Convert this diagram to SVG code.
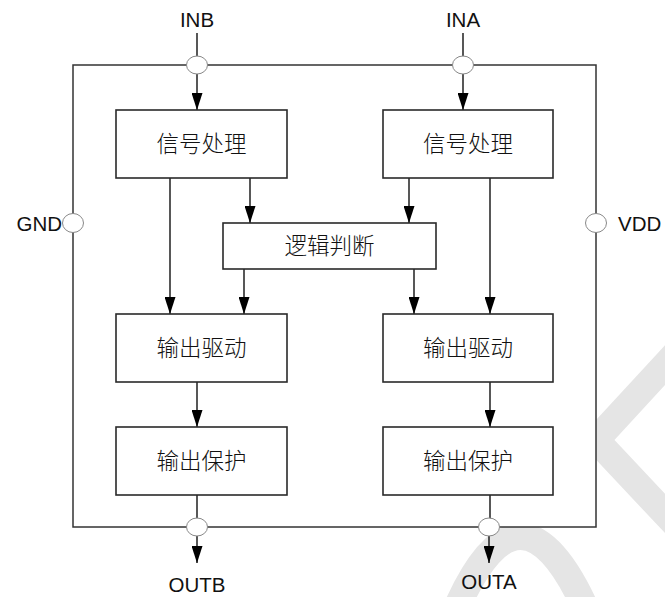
<svg xmlns="http://www.w3.org/2000/svg" width="665" height="597" viewBox="0 0 665 597">
  <style>
    .box { fill: #ffffff; stroke: #2a2a2a; stroke-width: 1.6; }
    .pin { fill: #ffffff; stroke: #888888; stroke-width: 1; }
    .wire { fill: none; stroke: #111111; stroke-width: 1.4; }
    .frame { fill: #ffffff; stroke: #333333; stroke-width: 1.5; }
    .cn { font-family: "Noto Sans CJK SC", "Noto Sans", sans-serif; font-size: 22.5px; font-weight: 300; fill: #111111; text-anchor: middle; }
    .lbl { font-family: "Liberation Sans", Arial, sans-serif; font-size: 20.5px; fill: #111111; }
    .wm { fill: none; stroke: #e5e5e5; stroke-width: 27; }
  </style>
  <defs>
    <marker id="ah" viewBox="0 0 17 11" refX="17" refY="5.5" markerUnits="userSpaceOnUse" markerWidth="17" markerHeight="11" orient="auto">
      <polygon points="0,0 17,5.5 0,11" fill="#000000"/>
    </marker>
  </defs>
  <rect width="665" height="597" fill="#ffffff"/>
  <g id="watermark">
    <path class="wm" d="M 458 605 Q 520 468 584 605"/>
    <path class="wm" d="M 690 338 L 596 440 L 690 540"/>
  </g>
  <rect id="frame" class="frame" x="73" y="65" width="523" height="462"/>
  <g id="connectors">
    <line class="wire" x1="197" y1="33" x2="197" y2="57"/>
    <line class="wire" x1="197" y1="74" x2="197" y2="110" marker-end="url(#ah)"/>
    <line class="wire" x1="463" y1="33" x2="463" y2="57"/>
    <line class="wire" x1="463" y1="74" x2="463" y2="110" marker-end="url(#ah)"/>
    <line class="wire" x1="170" y1="178" x2="170" y2="314" marker-end="url(#ah)"/>
    <line class="wire" x1="250" y1="178" x2="250" y2="223" marker-end="url(#ah)"/>
    <line class="wire" x1="244" y1="269" x2="244" y2="314" marker-end="url(#ah)"/>
    <line class="wire" x1="409" y1="178" x2="409" y2="223" marker-end="url(#ah)"/>
    <line class="wire" x1="414" y1="269" x2="414" y2="314" marker-end="url(#ah)"/>
    <line class="wire" x1="490" y1="178" x2="490" y2="314" marker-end="url(#ah)"/>
    <line class="wire" x1="197" y1="382" x2="197" y2="427" marker-end="url(#ah)"/>
    <line class="wire" x1="490" y1="382" x2="490" y2="427" marker-end="url(#ah)"/>
    <line class="wire" x1="197" y1="495" x2="197" y2="519"/>
    <line class="wire" x1="490" y1="495" x2="490" y2="519"/>
    <line class="wire" x1="197" y1="536" x2="197" y2="563" marker-end="url(#ah)"/>
    <line class="wire" x1="489" y1="536" x2="489" y2="563" marker-end="url(#ah)"/>
  </g>
  <g id="pin-INB">
    <ellipse class="pin" cx="197" cy="65" rx="10.5" ry="9"/>
    <text class="lbl" x="197" y="27" text-anchor="middle">INB</text>
  </g>
  <g id="pin-INA">
    <ellipse class="pin" cx="463" cy="65" rx="10.5" ry="9"/>
    <text class="lbl" x="463" y="27" text-anchor="middle">INA</text>
  </g>
  <g id="pin-GND">
    <ellipse class="pin" cx="73" cy="223" rx="10.5" ry="9.5"/>
    <text class="lbl" x="62" y="231" text-anchor="end">GND</text>
  </g>
  <g id="pin-VDD">
    <ellipse class="pin" cx="596" cy="223" rx="10.5" ry="9.5"/>
    <text class="lbl" x="618" y="231" text-anchor="start">VDD</text>
  </g>
  <g id="pin-OUTB">
    <ellipse class="pin" cx="197" cy="527" rx="10.5" ry="9"/>
    <text class="lbl" x="197" y="592" text-anchor="middle">OUTB</text>
  </g>
  <g id="pin-OUTA">
    <ellipse class="pin" cx="489" cy="527" rx="10.5" ry="9"/>
    <text class="lbl" x="489" y="589" text-anchor="middle">OUTA</text>
  </g>
  <g id="sig-B">
    <rect class="box" x="116" y="110" width="171" height="68"/>
    <text class="cn" x="201.5" y="152">信号处理</text>
  </g>
  <g id="sig-A">
    <rect class="box" x="383" y="110" width="170" height="68"/>
    <text class="cn" x="468" y="152">信号处理</text>
  </g>
  <g id="logic">
    <rect class="box" x="223" y="223" width="213" height="46"/>
    <text class="cn" x="329.5" y="254">逻辑判断</text>
  </g>
  <g id="drv-B">
    <rect class="box" x="116" y="314" width="171" height="68"/>
    <text class="cn" x="201.5" y="356">输出驱动</text>
  </g>
  <g id="drv-A">
    <rect class="box" x="383" y="314" width="170" height="68"/>
    <text class="cn" x="468" y="356">输出驱动</text>
  </g>
  <g id="prot-B">
    <rect class="box" x="116" y="427" width="171" height="68"/>
    <text class="cn" x="201.5" y="469">输出保护</text>
  </g>
  <g id="prot-A">
    <rect class="box" x="383" y="427" width="170" height="68"/>
    <text class="cn" x="468" y="469">输出保护</text>
  </g>
</svg>
